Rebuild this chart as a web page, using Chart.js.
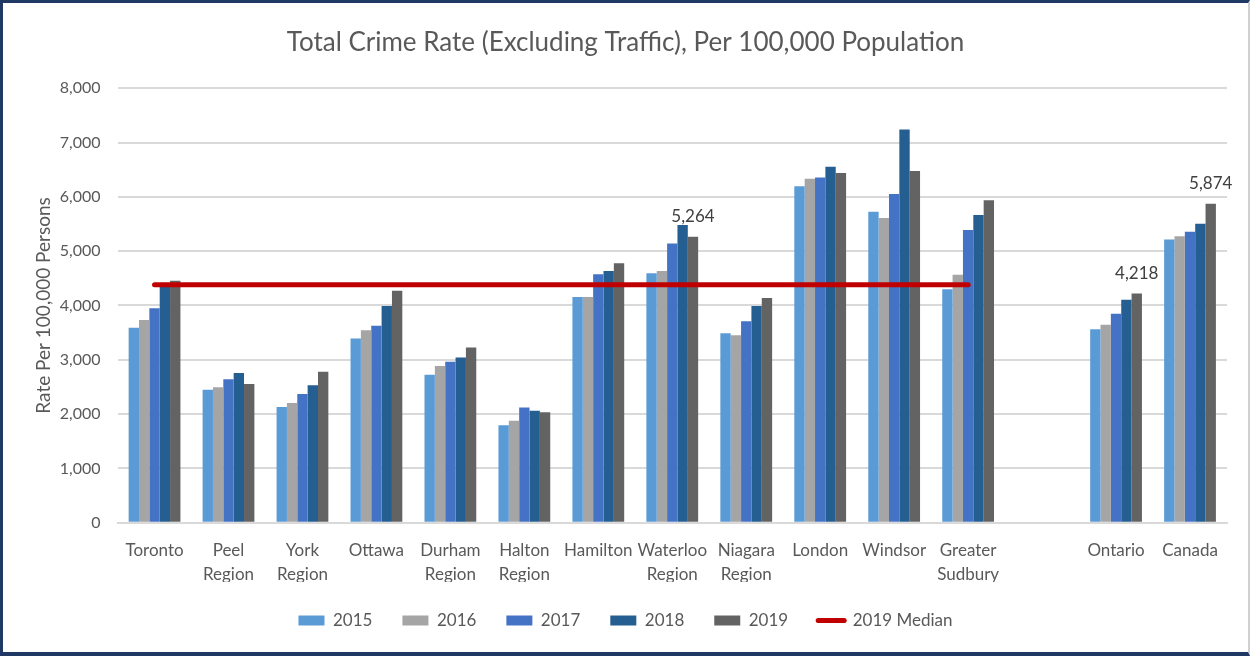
<!DOCTYPE html>
<html>
<head>
<meta charset="utf-8">
<title>Total Crime Rate</title>
<script src="https://cdn.jsdelivr.net/npm/chart.js@4/dist/chart.umd.min.js"></script>
<style>
  html, body { margin: 0; padding: 0; background: #fff; }
  #frame {
    box-sizing: border-box;
    width: 1250px;
    height: 656px;
    border-top: 3px solid #1f3864;
    border-left: 3px solid #1f3864;
    border-bottom: 4px solid #1f3864;
    border-right: 2px solid #d0d0d0;
    overflow: hidden;
  }
</style>
</head>
<body>
<div id="frame"><canvas id="chart" width="1245" height="649"></canvas></div>
<script>
const places = [
	"Toronto", ["Peel", "Region"], ["York", "Region"], "Ottawa", ["Durham", "Region"],
	["Halton", "Region"], "Hamilton", ["Waterloo", "Region"], ["Niagara", "Region"],
	"London", "Windsor", ["Greater", "Sudbury"], "", "Ontario", "Canada",
];

const rate2015 = [3590, 2450, 2130, 3390, 2725, 1795, 4155, 4595, 3490, 6195, 5725, 4300, null, 3562, 5212];
const rate2016 = [3730, 2495, 2205, 3545, 2885, 1875, 4155, 4635, 3450, 6335, 5610, 4565, null, 3646, 5274];
const rate2017 = [3950, 2640, 2370, 3625, 2965, 2120, 4575, 5140, 3710, 6355, 6050, 5390, null, 3849, 5359];
const rate2018 = [4360, 2755, 2530, 3990, 3040, 2060, 4635, 5480, 3990, 6555, 7240, 5665, null, 4107, 5506];
const rate2019 = [4455, 2555, 2780, 4270, 3225, 2035, 4775, 5264, 4135, 6440, 6475, 5935, null, 4218, 5874];
const median2019 = [4380, 4380, 4380, 4380, 4380, 4380, 4380, 4380, 4380, 4380, 4380, 4380, null, null, null];

// only these 2019 bars carry a value label
const labelled2019 = [7, 13, 14];

const FONT = "Lato, 'Open Sans', sans-serif";
const GREY = "#595959";

const barSet = (label, data, color) => ({
	label,
	data,
	backgroundColor: color,
	borderWidth: 0,
	order: 1,
});

const valueLabels = {
	id: "valueLabels",
	afterDatasetsDraw(chart) {
		const { ctx } = chart;
		const meta = chart.getDatasetMeta(4);
		ctx.save();
		ctx.font = "17px " + FONT;
		ctx.fillStyle = "#404040";
		ctx.textAlign = "center";
		ctx.textBaseline = "alphabetic";
		labelled2019.forEach((i) => {
			const bar = meta.data[i];
			ctx.fillText(rate2019[i].toLocaleString("en-US"), bar.x, bar.y - 15);
		});
		ctx.restore();
	},
};

new Chart(document.getElementById("chart"), {
	type: "bar",
	data: {
		labels: places,
		datasets: [
			barSet("2015", rate2015, "#5b9bd5"),
			barSet("2016", rate2016, "#a5a5a5"),
			barSet("2017", rate2017, "#4472c4"),
			barSet("2018", rate2018, "#255e91"),
			barSet("2019", rate2019, "#636363"),
			{
				type: "line",
				label: "2019 Median",
				data: median2019,
				borderColor: "#c00000",
				backgroundColor: "#c00000",
				borderWidth: 5,
				borderCapStyle: "round",
				pointRadius: 0,
				order: 0,
			},
		],
	},
	options: {
		responsive: false,
		animation: false,
		layout: { padding: { left: 21, right: 21, top: 4, bottom: 13 } },
		datasets: {
			bar: { categoryPercentage: 0.7, barPercentage: 1.0 },
		},
		plugins: {
			title: {
				display: true,
				text: "Total Crime Rate (Excluding Traffic), Per 100,000 Population",
				color: GREY,
				font: { family: FONT, size: 26, weight: "normal" },
				padding: { top: 20, bottom: 30 },
			},
			legend: {
				position: "bottom",
				labels: {
					color: GREY,
					font: { family: FONT, size: 17 },
					usePointStyle: true,
					pointStyleWidth: 26,
					boxHeight: 10,
					padding: 30,
					generateLabels(chart) {
						return chart.data.datasets.map((ds, i) => ({
							text: ds.label,
							fillStyle: ds.backgroundColor,
							strokeStyle: ds.borderColor || ds.backgroundColor,
							fontColor: GREY,
							lineWidth: ds.type === "line" ? 5 : 0,
							lineCap: "round",
							pointStyle: ds.type === "line" ? "line" : "rect",
							datasetIndex: i,
							hidden: false,
						}));
					},
				},
			},
			tooltip: { enabled: false },
		},
		scales: {
			x: {
				grid: { display: false },
				border: { color: "#d9d9d9", width: 2 },
				ticks: {
					color: GREY,
					font: { family: FONT, size: 17, lineHeight: 1.45 },
					autoSkip: false,
					maxRotation: 0,
					padding: 7,
				},
				// let the two-line labels sit closer to the legend
				afterFit(scale) {
					scale.height -= 12;
				},
			},
			y: {
				min: 0,
				max: 8000,
				ticks: {
					stepSize: 1000,
					color: GREY,
					font: { family: FONT, size: 16 },
					padding: 17,
				},
				grid: { color: "#d9d9d9", lineWidth: 2, drawTicks: false },
				border: { display: false },
				title: {
					display: true,
					text: "Rate Per 100,000 Persons",
					color: GREY,
					font: { family: FONT, size: 19 },
					padding: { top: 8, bottom: 0 },
				},
				afterFit(scale) {
					scale.width -= 12;
				},
			},
		},
	},
	plugins: [valueLabels],
});
</script>
</body>
</html>
